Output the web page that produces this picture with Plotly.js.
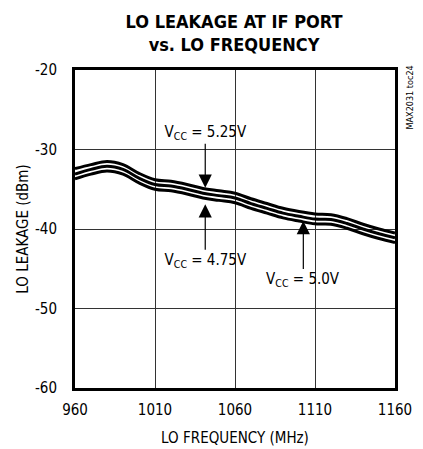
<!DOCTYPE html>
<html>
<head>
<meta charset="utf-8">
<script src="https://cdn.plot.ly/plotly-3.0.1.min.js"></script>
<style>
  html, body { margin: 0; padding: 0; background: #fff; }
  #chart { width: 423px; height: 449px; }
  #chart text { font-stretch: condensed !important; }
</style>
</head>
<body>
<div id="chart"></div>
<script>
// LO frequency sweep (MHz)
const freqMHz = [960, 970, 980, 990, 1000, 1010, 1020, 1030, 1040, 1050, 1060,
                 1070, 1080, 1090, 1100, 1110, 1120, 1130, 1140, 1150, 1160];

// LO leakage at the IF port (dBm) for each supply voltage
const leakVcc525 = [-32.4, -31.9, -31.5, -31.9, -33.0, -33.8, -34.0, -34.4, -34.9, -35.2, -35.5,
                    -36.2, -36.8, -37.4, -37.8, -38.1, -38.2, -38.7, -39.4, -40.0, -40.5];
const leakVcc50  = [-33.1, -32.5, -32.1, -32.5, -33.6, -34.4, -34.6, -35.0, -35.5, -35.8, -36.1,
                    -36.8, -37.4, -38.0, -38.4, -38.75, -38.8, -39.3, -40.0, -40.6, -41.1];
const leakVcc475 = [-33.7, -33.1, -32.7, -33.1, -34.2, -35.0, -35.2, -35.6, -36.1, -36.4, -36.7,
                    -37.4, -38.0, -38.6, -39.0, -39.35, -39.4, -39.9, -40.6, -41.2, -41.7];

const xTicks = [960, 1010, 1060, 1110, 1160];
const yTicks = [-60, -50, -40, -30, -20];

const FONT = '"DejaVu Sans", "Liberation Sans", Arial, sans-serif';

const curve = (y) => ({
  x: freqMHz, y: y, type: 'scatter', mode: 'lines',
  line: { color: '#000', width: 3, shape: 'spline', smoothing: 1 },
  hoverinfo: 'skip', showlegend: false
});

const data = [curve(leakVcc525), curve(leakVcc50), curve(leakVcc475)];

// callout: label placed at the arrow tail, arrow running to the curve
const callout = (text, x, y, ay) => ({
  x: x, y: y, ax: x, ay: ay, xref: 'x', yref: 'y', axref: 'x', ayref: 'y',
  text: text, showarrow: true, arrowhead: 2, arrowsize: 2.2, arrowwidth: 1.2,
  arrowcolor: '#000', standoff: 0, startstandoff: 0,
  xanchor: 'center', yanchor: 'middle',
  font: { family: FONT, size: 15, color: '#000' }
});

const layout = {
  width: 423, height: 449,
  margin: { l: 75, r: 28, t: 70, b: 61 },
  paper_bgcolor: '#fff', plot_bgcolor: '#fff',
  font: { family: FONT, size: 15, color: '#000' },
  showlegend: false,
  title: {
    text: '<b>LO LEAKAGE AT IF PORT<br>vs. LO FREQUENCY</b>',
    font: { family: FONT, size: 18, color: '#000' },
    xref: 'paper', x: 0.497, xanchor: 'center',
    yref: 'container', y: 1 - 28 / 449, yanchor: 'middle',
    automargin: false
  },
  xaxis: {
    range: [960, 1160], tickvals: xTicks, ticktext: xTicks.map(String),
    showgrid: true, gridcolor: '#333', gridwidth: 1,
    showline: true, linecolor: '#000', linewidth: 3, mirror: true,
    ticks: '', ticklen: 0, zeroline: false, ticklabelstandoff: 6,
    tickfont: { family: FONT, size: 15, color: '#000' },
    title: { text: 'LO FREQUENCY (MHz)', standoff: 15,
             font: { family: FONT, size: 15, color: '#000' } }
  },
  yaxis: {
    range: [-60, -20], tickvals: yTicks, ticktext: yTicks.map(String),
    showgrid: true, gridcolor: '#333', gridwidth: 1,
    showline: true, linecolor: '#000', linewidth: 3, mirror: true,
    ticks: '', ticklen: 0, zeroline: false, ticklabelstandoff: 12,
    tickfont: { family: FONT, size: 15, color: '#000' },
    title: { text: 'LO LEAKAGE (dBm)', standoff: 1,
             font: { family: FONT, size: 15, color: '#000' } }
  },
  annotations: [
    // figure id
    { xref: 'paper', yref: 'paper', x: 1, xshift: 15, y: 1, yshift: -27, text: 'MAX2031 toc24',
      textangle: -90, showarrow: false, xanchor: 'center', yanchor: 'middle',
      font: { family: FONT, size: 9, color: '#000' } },
    // supply voltage callouts
    callout('V<sub>CC</sub> = 5.25V', 1041.4, -34.8, -27.9),
    callout('V<sub>CC</sub> = 4.75V', 1041.4, -36.9, -44.0),
    callout('V<sub>CC</sub> = 5.0V', 1102.7, -39.0, -46.4)
  ]
};

Plotly.newPlot('chart', data, layout, { staticPlot: true, displayModeBar: false });
</script>
</body>
</html>
